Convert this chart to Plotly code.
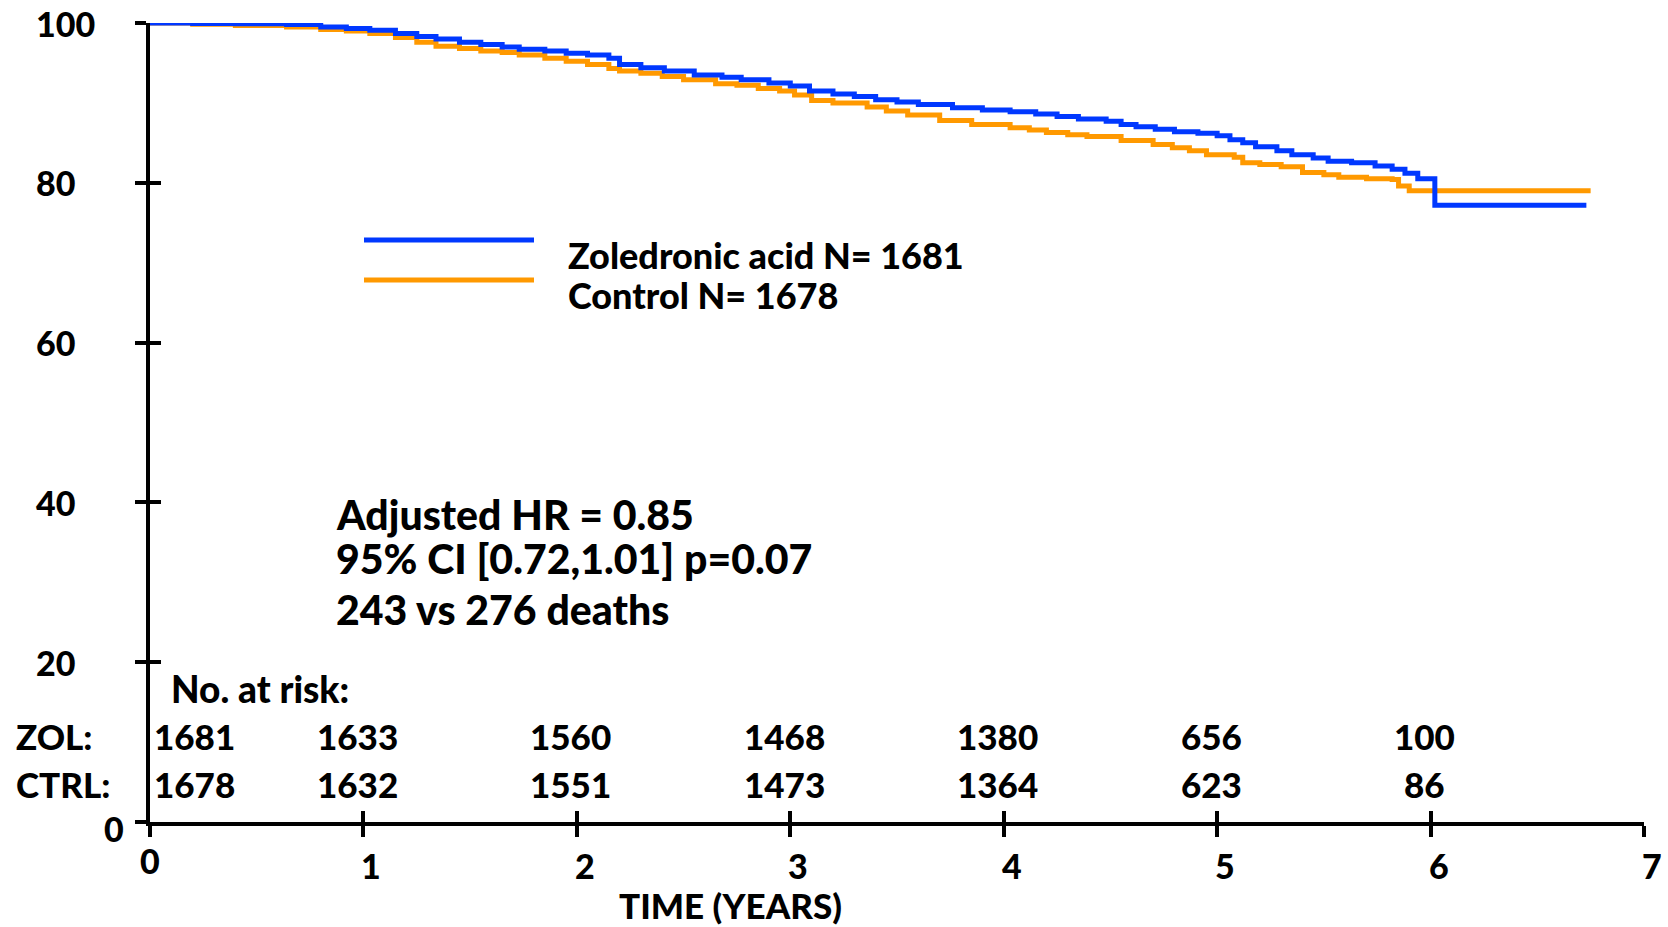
import plotly.graph_objects as go

# ---- data ----
zol_time = [0, 0.2, 0.4, 0.64, 0.8, 0.92, 1.03, 1.15, 1.25, 1.34, 1.45, 1.55, 1.65, 1.73, 1.85,
            1.95, 2.05, 2.15, 2.2, 2.3, 2.41, 2.55, 2.68, 2.77, 2.9, 3.0, 3.09, 3.2, 3.3, 3.4,
            3.5, 3.6, 3.76, 3.9, 4.03, 4.15, 4.25, 4.35, 4.48, 4.55, 4.62, 4.71, 4.8, 4.91,
            5.0, 5.06, 5.12, 5.18, 5.28, 5.35, 5.45, 5.52, 5.63, 5.74, 5.82, 5.88, 5.94,
            6.02, 6.73]
zol_surv = [100, 99.95, 99.9, 99.8, 99.5, 99.3, 99.1, 98.7, 98.3, 98.0, 97.6, 97.3, 97.0, 96.7, 96.5,
            96.2, 96.0, 95.6, 94.8, 94.4, 94.0, 93.5, 93.2, 92.9, 92.5, 92.1, 91.5, 91.1, 90.8, 90.4,
            90.1, 89.8, 89.4, 89.1, 88.9, 88.6, 88.3, 88.0, 87.7, 87.3, 87.0, 86.7, 86.4, 86.2,
            85.9, 85.4, 85.0, 84.5, 84.0, 83.5, 83.1, 82.7, 82.5, 82.1, 81.7, 81.2, 80.5,
            77.2, 77.2]

ctrl_time = [0, 0.2, 0.4, 0.64, 0.8, 0.92, 1.03, 1.15, 1.25, 1.34, 1.45, 1.55, 1.65, 1.73, 1.85,
             1.95, 2.05, 2.15, 2.2, 2.3, 2.4, 2.5, 2.65, 2.75, 2.85, 2.95, 3.02, 3.1, 3.2, 3.36,
             3.45, 3.55, 3.7, 3.85, 4.03, 4.12, 4.2, 4.3, 4.39, 4.55, 4.7, 4.79, 4.87, 4.95,
             5.08, 5.12, 5.2, 5.3, 5.4, 5.5, 5.57, 5.7, 5.82, 5.85, 5.9, 6.75]
ctrl_surv = [100, 99.85, 99.7, 99.5, 99.2, 99.0, 98.7, 98.2, 97.6, 97.1, 96.8, 96.5, 96.3, 96.0, 95.6,
             95.2, 94.8, 94.3, 94.0, 93.7, 93.3, 92.9, 92.4, 92.2, 91.8, 91.5, 91.0, 90.3, 90.0, 89.5,
             89.0, 88.5, 87.8, 87.3, 86.9, 86.6, 86.3, 86.0, 85.8, 85.3, 84.8, 84.4, 84.0, 83.5,
             83.2, 82.5, 82.3, 82.0, 81.3, 81.0, 80.7, 80.5, 80.4, 79.6, 79.0, 79.0]

risk_times = [0, 1, 2, 3, 4, 5, 6]
zol_risk = [1681, 1633, 1560, 1468, 1380, 656, 100]
ctrl_risk = [1678, 1632, 1551, 1473, 1364, 623, 86]

x_ticks = [0, 1, 2, 3, 4, 5, 6, 7]
y_ticks = [0, 20, 40, 60, 80, 100]

legend_names = ["Zoledronic acid N= 1681", "Control N= 1678"]
hr_lines = ["Adjusted HR = 0.85", "95% CI [0.72,1.01] p=0.07", "243 vs 276 deaths"]

BLUE = "#0038FF"
ORANGE = "#FF9900"
FONT = "Lato"
WEIGHT = 900

W, H = 1668, 927
L, R, T, B = 150, 24, 23, 105
PW, PH = W - L - R, H - T - B


def px(xp):
    return (xp - L) / PW


def py(yp):
    return (H - B - yp) / PH


def f(size):
    return dict(family=FONT, size=size, color="black", weight=WEIGHT)


fig = go.Figure()
fig.add_trace(go.Scatter(x=ctrl_time, y=ctrl_surv, mode="lines", line_shape="hv",
                         line=dict(color=ORANGE, width=5), cliponaxis=False, showlegend=False))
fig.add_trace(go.Scatter(x=zol_time, y=zol_surv, mode="lines", line_shape="hv",
                         line=dict(color=BLUE, width=5), cliponaxis=False, showlegend=False))
# helper trace so the overlay axes (inner half of crossing ticks) get drawn
fig.add_trace(go.Scatter(x=[None], y=[None], xaxis="x2", yaxis="y2", showlegend=False,
                         hoverinfo="skip"))

ax_common = dict(showgrid=False, zeroline=False, showticklabels=False,
                 ticklen=11, tickwidth=4, tickcolor="black")
fig.update_layout(
    width=W, height=H,
    margin=dict(l=L, r=R, t=T, b=B, pad=0),
    plot_bgcolor="white", paper_bgcolor="white",
    xaxis=dict(range=[0, 7], tickvals=x_ticks, ticks="outside", showline=True,
               linewidth=4, linecolor="black", **ax_common),
    yaxis=dict(range=[0, 100], tickvals=y_ticks, ticks="outside", showline=True,
               linewidth=4, linecolor="black", **ax_common),
    xaxis2=dict(range=[0, 7], tickvals=x_ticks, ticks="inside", overlaying="x",
                anchor="y2", side="bottom", showline=False, **ax_common),
    yaxis2=dict(range=[0, 100], tickvals=y_ticks[:-1], ticks="inside", overlaying="y",
                anchor="x2", side="left", showline=False, **ax_common),
    font=dict(family=FONT, color="black"),
)

ann = []
# y tick labels
for v in y_ticks:
    if v == 0:
        ann.append(dict(x=px(102), y=v, xref="paper", yref="y", text="0", showarrow=False,
                        xanchor="left", yanchor="middle", yshift=-6, font=f(34)))
    else:
        ann.append(dict(x=px(34), y=v, xref="paper", yref="y", text=f"{v}", showarrow=False,
                        xanchor="left", yanchor="middle", font=f(34)))
# x tick labels
for v in x_ticks:
    ann.append(dict(x=v, y=py(865) if v else py(860), xref="x", yref="paper", text=f"{v}",
                    showarrow=False, xanchor="center", yanchor="middle",
                    xshift=8 if v else 0, font=f(34)))
# x title
ann.append(dict(x=px(730), y=py(905), xref="paper", yref="paper", text="TIME (YEARS)",
                showarrow=False, xanchor="center", yanchor="middle", font=f(35)))
# number at risk
ann.append(dict(x=px(169), y=py(688), xref="paper", yref="paper", text="No. at risk:",
                showarrow=False, xanchor="left", yanchor="middle", font=f(37)))
for label, vals, yp in (("ZOL:", zol_risk, 736), ("CTRL:", ctrl_risk, 784)):
    ann.append(dict(x=px(14), y=py(yp), xref="paper", yref="paper", text=label,
                    showarrow=False, xanchor="left", yanchor="middle", font=f(35)))
    for t, n in zip(risk_times, vals):
        if t == 0:
            ann.append(dict(x=t, y=py(yp), xref="x", yref="paper", text=f"{n}",
                            showarrow=False, xanchor="left", yanchor="middle", xshift=2,
                            font=f(35)))
        else:
            ann.append(dict(x=t, y=py(yp), xref="x", yref="paper", text=f"{n}",
                            showarrow=False, xanchor="center", yanchor="middle", xshift=-6,
                            font=f(35)))
# legend text
for name, yp in zip(legend_names, (255, 295)):
    ann.append(dict(x=px(566), y=py(yp), xref="paper", yref="paper", text=name,
                    showarrow=False, xanchor="left", yanchor="middle", font=f(36)))
# HR text
for line, yp in zip(hr_lines, (514, 558, 610)):
    ann.append(dict(x=px(334), y=py(yp), xref="paper", yref="paper", text=line,
                    showarrow=False, xanchor="left", yanchor="middle", font=f(41)))
fig.update_layout(annotations=ann)

# legend sample lines
for col, yp in ((BLUE, 240), (ORANGE, 280)):
    fig.add_shape(type="line", xref="paper", yref="paper", x0=px(364), x1=px(534),
                  y0=py(yp), y1=py(yp), line=dict(color=col, width=5))

fig.write_html("out.html")
